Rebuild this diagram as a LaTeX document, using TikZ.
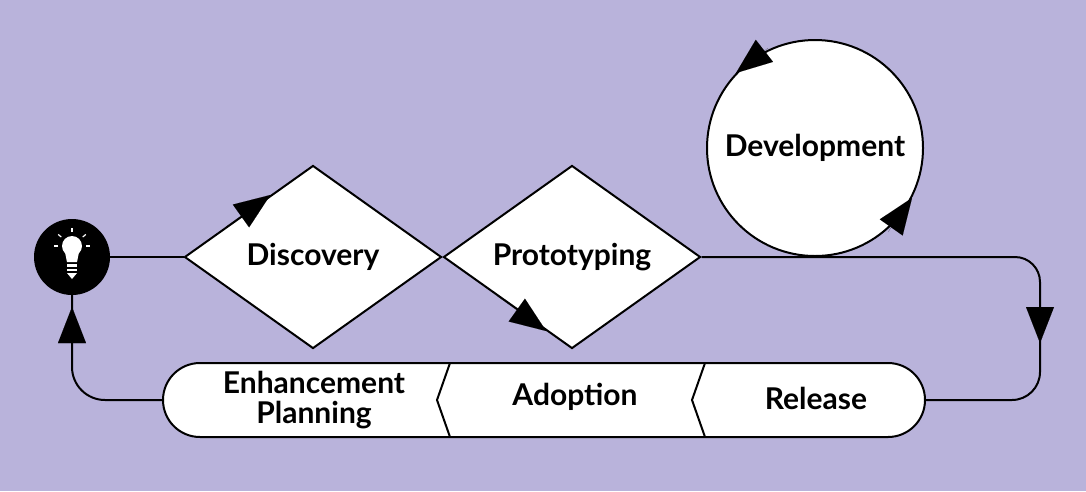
\documentclass[tikz,border=0pt]{standalone}
\usepackage{fontspec}
\setmainfont{Lato}
\usetikzlibrary{shapes.geometric,arrows.meta,calc}
\definecolor{bg}{HTML}{B9B3DB}
\tikzset{
  x=1pt,y=-1pt,
  ln/.style={line width=2pt,black},
  lbl/.style={font=\bfseries\fontsize{30}{30}\selectfont,align=center},
  dia/.style={diamond,draw,ln,fill=white,minimum width=257pt,minimum height=183pt,inner sep=0pt},
  tip/.style={draw,line width=0.01pt,-{Triangle[length=36pt,width=28pt]}},
}
\begin{document}
\begin{tikzpicture}
\fill[bg] (0,0) rectangle (1086,491);
\useasboundingbox (0,0) rectangle (1086,491);
% bulb
\node[circle,fill=black,minimum size=76pt,inner sep=0pt] (bulb) at (72,257) {};
\fill[white] (72,246) circle (10);
\fill[white] (65,252) -- (79,252) -- (77,262) -- (67,262) -- cycle;
\fill[white] (67,264) rectangle (77,266.5);
\fill[white] (67,268.5) rectangle (77,271);
\fill[white] (67,273) -- (77,273) -- (72,279) -- cycle;
\foreach \a in {0,40,90,140,180}{\draw[white,line width=1.2pt] ($(72,246)+(\a:-14)$) -- ($(72,246)+(\a:-18)$);}
% diamonds
\node[dia] (disc) at (313,257) {};
\node[dia] (proto) at (572,257) {};
\node[lbl] at (disc) {Discovery};
\node[lbl] at (proto) {Prototyping};
\coordinate (t1a) at ($(disc.west)!0.33!(disc.north)$);
\coordinate (t1b) at ($(disc.west)!0.67!(disc.north)$);
\path[tip] (t1a) -- (t1b);
\coordinate (t2a) at ($(proto.west)!0.42!(proto.south)$);
\coordinate (t2b) at ($(proto.west)!0.8!(proto.south)$);
\path[tip] (t2a) -- (t2b);
% development
\node[circle,draw,ln,fill=white,minimum size=216pt,inner sep=0pt] (dev) at (815,148) {};
\node[lbl] at (dev) {Development};
\coordinate (t3a) at (768,48);
\coordinate (t3b) at (736,73);
\path[tip] (t3a) -- (t3b);
\coordinate (t4a) at (888,232);
\coordinate (t4b) at (912,198);
\path[tip] (t4a) -- (t4b);
% bottom bar
\coordinate (bl) at (163,400);
\coordinate (br) at (925,400);
\draw[ln,fill=white] (200,363) -- (888,363) arc[start angle=-90,end angle=90,radius=37] -- (200,437) arc[start angle=90,end angle=270,radius=37] -- cycle;
\draw[ln] (450,363) -- (437,400) -- (450,437);
\draw[ln] (705,363) -- (692,400) -- (705,437);
\node[lbl] (enh) at (314,400) {Enhancement\\Planning};
\node[lbl] (adop) at (575,397) {Adoption};
\node[lbl] (rel) at (816,398) {Release};
% connectors
\draw[ln] (bulb.east) -- (disc.west);
\draw[ln] (proto.east) -- (1015,257) arc[start angle=-90,end angle=0,radius=25] -- (1040,372) arc[start angle=0,end angle=90,radius=28] -- (br);
\coordinate (t5a) at (1040,305);
\coordinate (t5b) at (1040,343);
\path[tip] (t5a) -- (t5b);
\draw[ln] (bl) -- (105,400) arc[start angle=90,end angle=180,radius=33] -- (bulb.south);
\coordinate (t6a) at (72,345);
\coordinate (t6b) at (72,307);
\path[tip] (t6a) -- (t6b);
\end{tikzpicture}
\end{document}
